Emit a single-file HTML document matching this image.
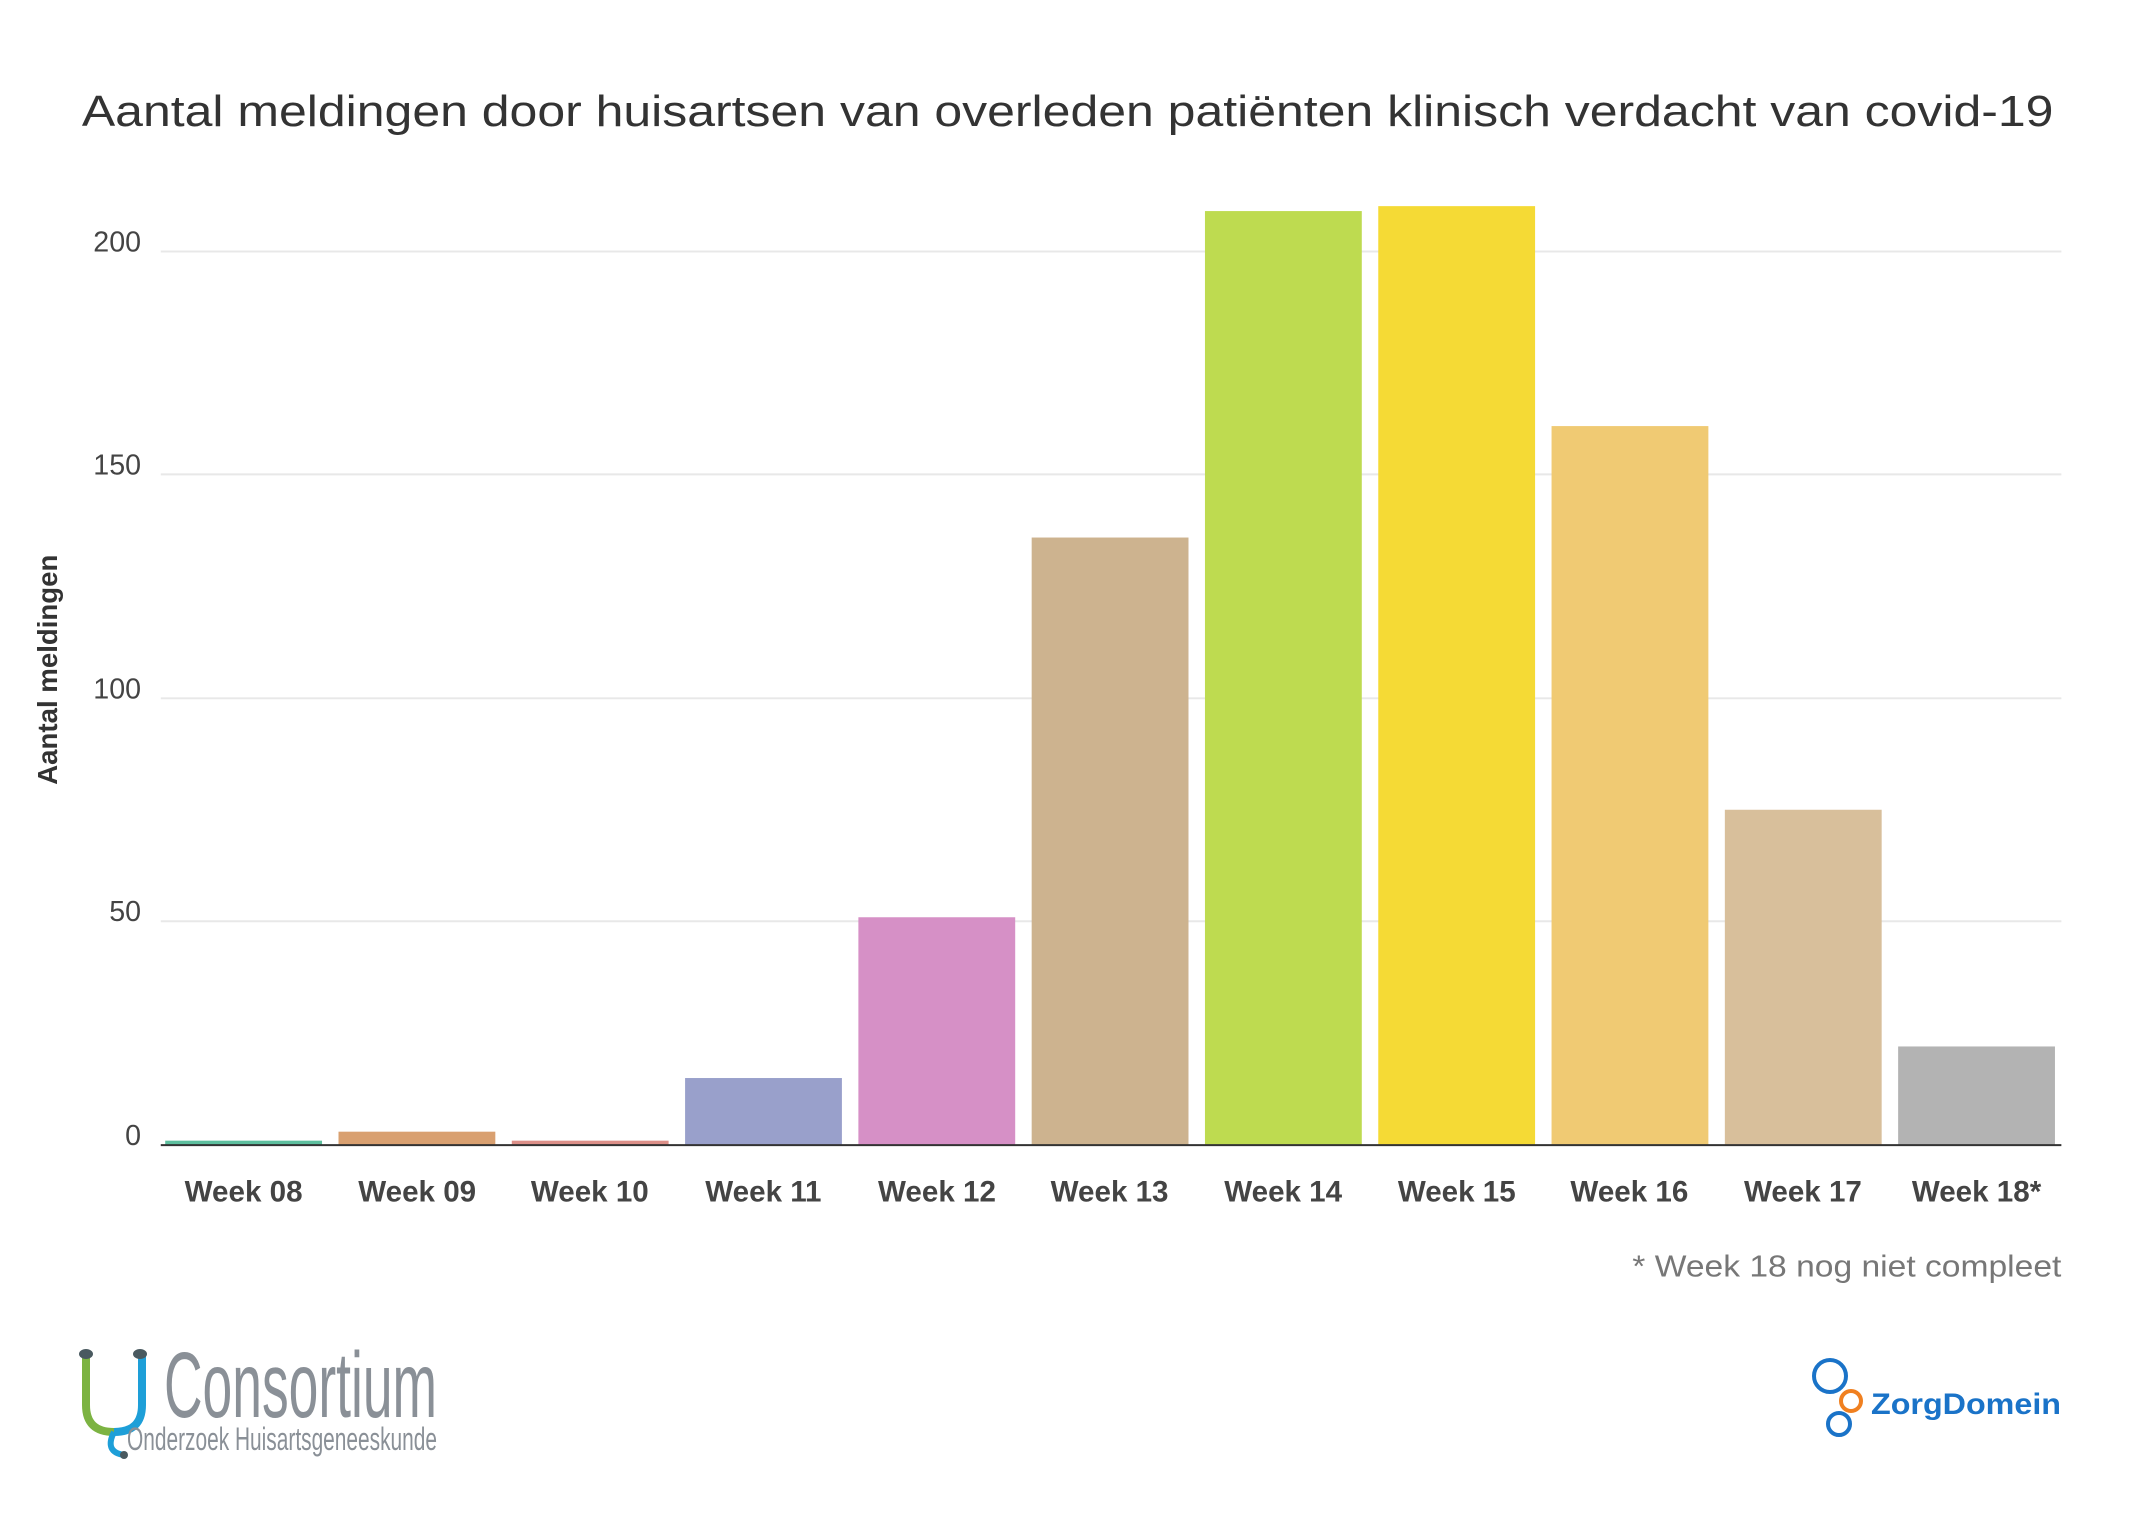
<!DOCTYPE html>
<html><head><meta charset="utf-8"><style>
html,body{margin:0;padding:0;background:#fff;}
svg{display:block;font-family:"Liberation Sans",sans-serif;}
</style></head><body>
<svg width="2140" height="1536" viewBox="0 0 2140 1536" xmlns="http://www.w3.org/2000/svg">
<rect width="2140" height="1536" fill="#fff"/>
<g transform="scale(0.9863)">
<text x="83" y="128" font-size="44" fill="#333" textLength="1999" lengthAdjust="spacingAndGlyphs">Aantal meldingen door huisartsen van overleden patiënten klinisch verdacht van covid-19</text>
<g stroke="#e8e8e8" stroke-width="2">
<line x1="163" x2="2090" y1="255" y2="255"/>
<line x1="163" x2="2090" y1="481" y2="481"/>
<line x1="163" x2="2090" y1="708" y2="708"/>
<line x1="163" x2="2090" y1="934" y2="934"/>
</g>
<g font-size="29" fill="#444" text-anchor="end">
<text x="143" y="255">200</text>
<text x="143" y="481">150</text>
<text x="143" y="708">100</text>
<text x="143" y="934">50</text>
<text x="143" y="1161">0</text>
</g>
<text transform="translate(58,679) rotate(-90)" font-size="28" font-weight="bold" fill="#333" text-anchor="middle">Aantal meldingen</text>
<g>
<rect x="167.5" y="1156.5" width="159" height="4.5" fill="#5dbf9e"/>
<rect x="343.2" y="1147.4" width="159" height="13.6" fill="#d9a070"/>
<rect x="518.9" y="1156.5" width="159" height="4.5" fill="#dc8f88"/>
<rect x="694.6" y="1093" width="159" height="68" fill="#99a0cb"/>
<rect x="870.3" y="930" width="159" height="231" fill="#d690c6"/>
<rect x="1046" y="545" width="159" height="616" fill="#cdb38f"/>
<rect x="1221.7" y="214" width="159" height="947" fill="#bedb50"/>
<rect x="1397.4" y="209" width="159" height="952" fill="#f5da35"/>
<rect x="1573.1" y="432" width="159" height="729" fill="#f0ca73"/>
<rect x="1748.8" y="821" width="159" height="340" fill="#d8bf9b"/>
<rect x="1924.5" y="1061" width="159" height="100" fill="#b3b3b3"/>
</g>
<line x1="163" x2="2090" y1="1161" y2="1161" stroke="#333" stroke-width="2"/>
<g font-size="30" fill="#444" text-anchor="middle" font-weight="bold">
<text x="247" y="1218">Week 08</text>
<text x="423" y="1218">Week 09</text>
<text x="598" y="1218">Week 10</text>
<text x="774" y="1218">Week 11</text>
<text x="950" y="1218">Week 12</text>
<text x="1125" y="1218">Week 13</text>
<text x="1301" y="1218">Week 14</text>
<text x="1477" y="1218">Week 15</text>
<text x="1652" y="1218">Week 16</text>
<text x="1828" y="1218">Week 17</text>
<text x="2004" y="1218">Week 18*</text>
</g>
<text x="1655" y="1294" font-size="31" fill="#777" textLength="435" lengthAdjust="spacingAndGlyphs">* Week 18 nog niet compleet</text>
</g>
<!-- Consortium logo -->
<path d="M86 1356 V1405 Q86 1432 114 1432" fill="none" stroke="#7cb342" stroke-width="8"/>
<path d="M142 1356 V1405 Q142 1432 114 1432" fill="none" stroke="#1e9fd8" stroke-width="8"/>
<path d="M114 1432 Q104 1452 124 1455" fill="none" stroke="#1e9fd8" stroke-width="6"/>
<ellipse cx="86" cy="1354" rx="7" ry="5" fill="#4a5a60"/>
<ellipse cx="140" cy="1354" rx="7" ry="5" fill="#4a5a60"/>
<circle cx="124" cy="1455" r="4" fill="#4a5a60"/>
<text x="164" y="1417" font-size="93" fill="#8a9097" textLength="273" lengthAdjust="spacingAndGlyphs">Consortium</text>
<text x="127" y="1450" font-size="32" fill="#8a9097" textLength="310" lengthAdjust="spacingAndGlyphs">Onderzoek Huisartsgeneeskunde</text>
<!-- ZorgDomein -->
<circle cx="1830" cy="1376" r="16" fill="none" stroke="#1a73c8" stroke-width="4"/>
<circle cx="1851" cy="1401" r="10" fill="none" stroke="#f08020" stroke-width="4"/>
<circle cx="1839" cy="1424" r="11" fill="none" stroke="#1a73c8" stroke-width="4"/>
<text x="1871" y="1414" font-size="30" font-weight="bold" fill="#1a73c8" textLength="190" lengthAdjust="spacingAndGlyphs">ZorgDomein</text>
</svg>
</body></html>
